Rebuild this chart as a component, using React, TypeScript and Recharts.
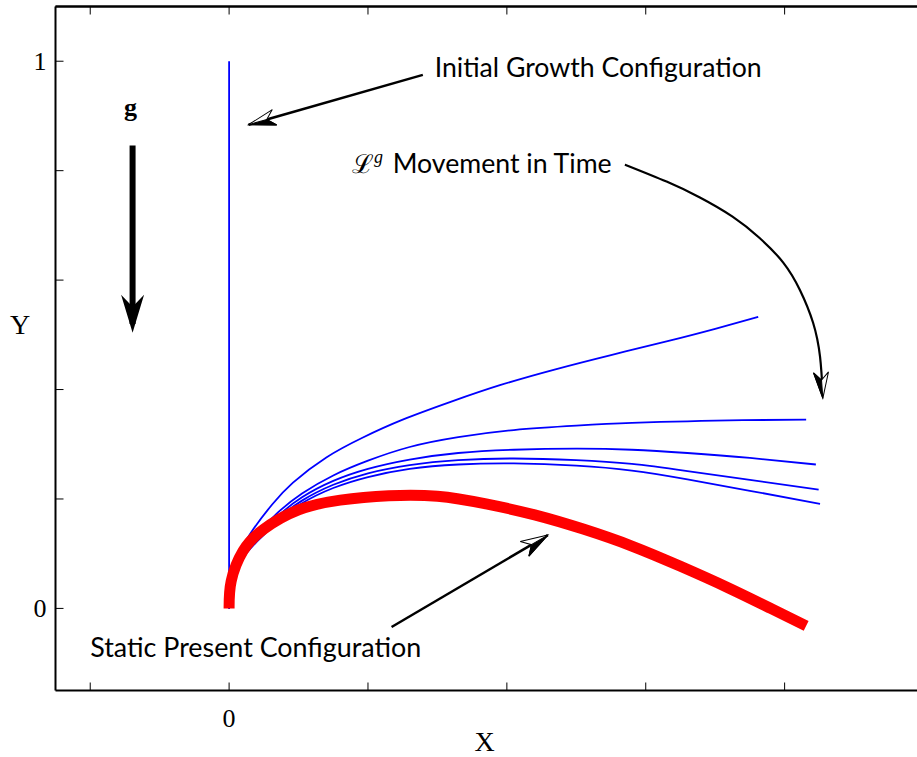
import React from 'react';
import { LineChart, Line, XAxis, YAxis, ReferenceLine, ReferenceDot, Label } from 'recharts';

// axis ticks
const xTicks = [-0.2, 0, 0.2, 0.4, 0.6, 0.8, 1];
const yTicks = [0, 0.2, 0.4, 0.6, 0.8, 1];
const labelledTicks = [0, 1];

// configurations
const initialGrowth = [
  { x: 0, y: 0 },
  { x: 0, y: 1 },
];

const curveA = [
  { x: 0, y: 0 },
  { x: 0.004, y: 0.05 },
  { x: 0.015, y: 0.1 },
  { x: 0.035, y: 0.145 },
  { x: 0.062, y: 0.19 },
  { x: 0.092, y: 0.23 },
  { x: 0.14, y: 0.276 },
  { x: 0.192, y: 0.312 },
  { x: 0.25, y: 0.345 },
  { x: 0.32, y: 0.378 },
  { x: 0.39, y: 0.408 },
  { x: 0.47, y: 0.437 },
  { x: 0.55, y: 0.463 },
  { x: 0.63, y: 0.488 },
  { x: 0.7, y: 0.511 },
  { x: 0.762, y: 0.533 },
];

const curveB = [
  { x: 0, y: 0 },
  { x: 0.004, y: 0.045 },
  { x: 0.016, y: 0.09 },
  { x: 0.04, y: 0.135 },
  { x: 0.07, y: 0.175 },
  { x: 0.105, y: 0.21 },
  { x: 0.15, y: 0.243 },
  { x: 0.2, y: 0.27 },
  { x: 0.26, y: 0.295 },
  { x: 0.33, y: 0.313 },
  { x: 0.41, y: 0.326 },
  { x: 0.5, y: 0.334 },
  { x: 0.58, y: 0.339 },
  { x: 0.66, y: 0.342 },
  { x: 0.74, y: 0.344 },
  { x: 0.831, y: 0.345 },
];

const curveC = [
  { x: 0, y: 0 },
  { x: 0.004, y: 0.044 },
  { x: 0.016, y: 0.088 },
  { x: 0.04, y: 0.128 },
  { x: 0.07, y: 0.168 },
  { x: 0.105, y: 0.203 },
  { x: 0.15, y: 0.233 },
  { x: 0.2, y: 0.255 },
  { x: 0.26, y: 0.272 },
  { x: 0.33, y: 0.284 },
  { x: 0.41, y: 0.29 },
  { x: 0.5, y: 0.292 },
  { x: 0.58, y: 0.29 },
  { x: 0.66, y: 0.284 },
  { x: 0.75, y: 0.275 },
  { x: 0.845, y: 0.263 },
];

const curveD = [
  { x: 0, y: 0 },
  { x: 0.004, y: 0.043 },
  { x: 0.016, y: 0.086 },
  { x: 0.04, y: 0.125 },
  { x: 0.07, y: 0.163 },
  { x: 0.105, y: 0.197 },
  { x: 0.15, y: 0.226 },
  { x: 0.2, y: 0.247 },
  { x: 0.26, y: 0.262 },
  { x: 0.33, y: 0.271 },
  { x: 0.41, y: 0.274 },
  { x: 0.5, y: 0.271 },
  { x: 0.58, y: 0.264 },
  { x: 0.66, y: 0.251 },
  { x: 0.75, y: 0.235 },
  { x: 0.849, y: 0.217 },
];

const curveE = [
  { x: 0, y: 0 },
  { x: 0.004, y: 0.042 },
  { x: 0.016, y: 0.084 },
  { x: 0.04, y: 0.122 },
  { x: 0.07, y: 0.158 },
  { x: 0.105, y: 0.192 },
  { x: 0.15, y: 0.22 },
  { x: 0.2, y: 0.24 },
  { x: 0.26, y: 0.255 },
  { x: 0.33, y: 0.263 },
  { x: 0.41, y: 0.265 },
  { x: 0.5, y: 0.261 },
  { x: 0.58, y: 0.252 },
  { x: 0.66, y: 0.236 },
  { x: 0.75, y: 0.215 },
  { x: 0.851, y: 0.191 },
];

const staticPresent = [
  { x: 0, y: 0 },
  { x: 0.003, y: 0.05 },
  { x: 0.02, y: 0.105 },
  { x: 0.05, y: 0.145 },
  { x: 0.1, y: 0.18 },
  { x: 0.16, y: 0.198 },
  { x: 0.23, y: 0.206 },
  { x: 0.3, y: 0.205 },
  { x: 0.37, y: 0.191 },
  { x: 0.44, y: 0.171 },
  { x: 0.51, y: 0.145 },
  { x: 0.58, y: 0.114 },
  { x: 0.65, y: 0.077 },
  { x: 0.72, y: 0.037 },
  { x: 0.78, y: 0.0 },
  { x: 0.831, y: -0.032 },
];

// annotation arrows
const movementArrow = [
  { x: 0.57, y: 0.811 },
  { x: 0.63, y: 0.78 },
  { x: 0.678, y: 0.751 },
  { x: 0.725, y: 0.716 },
  { x: 0.764, y: 0.677 },
  { x: 0.798, y: 0.632 },
  { x: 0.822, y: 0.582 },
  { x: 0.841, y: 0.522 },
  { x: 0.851, y: 0.46 },
  { x: 0.855, y: 0.39 },
];
const movementTip = { x: 0.855, y: 0.384 };
const initialArrow = [{ x: 0.279, y: 0.975 }, { x: 0.028, y: 0.884 }];
const staticArrow = [{ x: 0.234, y: -0.034 }, { x: 0.459, y: 0.134 }];
const gravityArrow = [{ x: -0.139, y: 0.846 }, { x: -0.139, y: 0.52 }];
const gravityTip = { x: -0.139, y: 0.504 };

const sans = 'Lato, "Open Sans", sans-serif';
const serif = '"Liberation Serif", "DejaVu Serif", serif';

// open MATLAB-style head, one half filled
const openHead = (angle: number, len: number, half: number, side: number) => (p: any) => (
  <g transform={`translate(${p.cx},${p.cy}) rotate(${angle})`}>
    <polygon
      points={`0,0 ${-len},${-half} ${-len * 0.7},0 ${-len},${half}`}
      fill="#fff"
      stroke="#000"
      strokeWidth={1}
    />
    <polygon points={`0,0 ${-len * 0.7},0 ${-len},${half * side}`} fill="#000" stroke="#000" strokeWidth={1} />
  </g>
);

const solidHead = (angle: number, len: number, half: number) => (p: any) => (
  <g transform={`translate(${p.cx},${p.cy}) rotate(${angle})`}>
    <polygon points={`0,0 ${-len},${-half} ${-len * 0.68},0 ${-len},${half}`} fill="#000" />
  </g>
);

const textAt = (str: string, size: number, width?: number) => (p: any) => (
  <text
    x={p.cx}
    y={p.cy}
    fontFamily={sans}
    fontSize={size}
    fill="#000"
    textLength={width}
    lengthAdjust="spacingAndGlyphs"
  >
    {str}
  </text>
);

const BottomTick = ({ x, y, payload }: any) => (
  <g>
    <line x1={x} y1={y} x2={x} y2={y - 8} stroke="#000" strokeWidth={1} />
    {payload.value === 0 && (
      <text x={x} y={y + 36} textAnchor="middle" fontFamily={serif} fontSize={26} fill="#000">
        {payload.value}
      </text>
    )}
  </g>
);

const TopTick = ({ x, y }: any) => <line x1={x} y1={y} x2={x} y2={y + 8} stroke="#000" strokeWidth={1} />;

const LeftTick = ({ x, y, payload }: any) => (
  <g>
    <line x1={x} y1={y} x2={x + 8} y2={y} stroke="#000" strokeWidth={1} />
    {labelledTicks.includes(payload.value) && (
      <text x={x - 9} y={y + 9} textAnchor="end" fontFamily={serif} fontSize={26} fill="#000">
        {payload.value}
      </text>
    )}
  </g>
);

const RightTick = ({ x, y }: any) => <line x1={x} y1={y} x2={x - 8} y2={y} stroke="#000" strokeWidth={1} />;

const axisLine = { stroke: '#000', strokeWidth: 2 };
const lineProps = { dot: false, activeDot: false, isAnimationActive: false } as const;

export default function App() {
  return (
    <div
      style={{
        position: 'absolute',
        left: 0,
        top: 0,
        width: 917,
        height: 757,
        overflow: 'hidden',
        background: '#fff',
      }}
    >
      <LineChart width={940} height={757} margin={{ top: 5.5, right: 16.5, bottom: 0, left: 0 }}>
        <XAxis
          dataKey="x"
          type="number"
          domain={[-0.25, 1]}
          ticks={xTicks}
          allowDataOverflow
          height={66.5}
          tickSize={0}
          tickMargin={0}
          tick={<BottomTick />}
          axisLine={axisLine}
        >
          <Label
            content={(p: any) => (
              <text
                x={p.viewBox.x + p.viewBox.width / 2 - 5}
                y={p.viewBox.y + 60}
                textAnchor="middle"
                fontFamily={serif}
                fontSize={28}
                fill="#000"
              >
                X
              </text>
            )}
          />
        </XAxis>
        <XAxis
          xAxisId="top"
          orientation="top"
          dataKey="x"
          type="number"
          domain={[-0.25, 1]}
          ticks={xTicks}
          allowDataOverflow
          height={1}
          tickSize={0}
          tickMargin={0}
          tick={<TopTick />}
          axisLine={axisLine}
        />
        <YAxis
          type="number"
          domain={[-0.15, 1.1]}
          ticks={yTicks}
          allowDataOverflow
          width={55.5}
          tickSize={0}
          tickMargin={0}
          tick={<LeftTick />}
          axisLine={axisLine}
        >
          <Label
            content={() => (
              <text x={20} y={334} textAnchor="middle" fontFamily={serif} fontSize={28} fill="#000">
                Y
              </text>
            )}
          />
        </YAxis>
        <YAxis
          yAxisId="right"
          orientation="right"
          type="number"
          domain={[-0.15, 1.1]}
          ticks={yTicks}
          allowDataOverflow
          width={0}
          tickSize={0}
          tickMargin={0}
          tick={<RightTick />}
          axisLine={axisLine}
        />

        <ReferenceLine y={1.1} stroke="#000" strokeWidth={2} />

        <Line data={initialGrowth} dataKey="y" type="linear" stroke="#0000ff" strokeWidth={1.8} {...lineProps} />
        <Line data={curveA} dataKey="y" type="natural" stroke="#0000ff" strokeWidth={1.8} {...lineProps} />
        <Line data={curveB} dataKey="y" type="natural" stroke="#0000ff" strokeWidth={1.8} {...lineProps} />
        <Line data={curveC} dataKey="y" type="natural" stroke="#0000ff" strokeWidth={1.8} {...lineProps} />
        <Line data={curveD} dataKey="y" type="natural" stroke="#0000ff" strokeWidth={1.8} {...lineProps} />
        <Line data={curveE} dataKey="y" type="natural" stroke="#0000ff" strokeWidth={1.8} {...lineProps} />
        <Line data={staticPresent} dataKey="y" type="natural" stroke="#ff0000" strokeWidth={11} strokeLinecap="butt" {...lineProps} />

        <Line data={movementArrow} dataKey="y" type="natural" stroke="#000" strokeWidth={2.2} {...lineProps} />
        <ReferenceLine segment={initialArrow} stroke="#000" strokeWidth={2.5} />
        <ReferenceLine segment={staticArrow} stroke="#000" strokeWidth={2.5} />
        <ReferenceLine segment={gravityArrow} stroke="#000" strokeWidth={6} />

        <ReferenceDot x={initialArrow[1].x} y={initialArrow[1].y} shape={openHead(164, 27, 8, -1)} />
        <ReferenceDot x={staticArrow[1].x} y={staticArrow[1].y} shape={openHead(-30.5, 27, 8.5, 1)} />
        <ReferenceDot x={movementTip.x} y={movementTip.y} shape={openHead(86, 26, 7.5, 1)} />
        <ReferenceDot x={gravityTip.x} y={gravityTip.y} shape={solidHead(90, 38, 11.5)} />

        <ReferenceDot
          x={-0.142}
          y={0.899}
          shape={(p: any) => (
            <text x={p.cx} y={p.cy} textAnchor="middle" fontFamily={serif} fontWeight="bold" fontSize={26} fill="#000">
              g
            </text>
          )}
        />
        <ReferenceDot x={0.296} y={0.972} shape={textAt('Initial Growth Configuration', 26, 327)} />
        <ReferenceDot
          x={0.177}
          y={0.796}
          shape={(p: any) => (
            <text x={p.cx} y={p.cy} fontFamily={serif} fontSize={26} fill="#000">
              <tspan>ℒ</tspan>
              <tspan fontStyle="italic" fontSize={18} dy={-10}>
                g
              </tspan>
            </text>
          )}
        />
        <ReferenceDot x={0.2356} y={0.796} shape={textAt('Movement in Time', 26, 219)} />
        <ReferenceDot x={-0.2} y={-0.0887} shape={textAt('Static Present Configuration', 26, 331)} />
      </LineChart>
    </div>
  );
}
